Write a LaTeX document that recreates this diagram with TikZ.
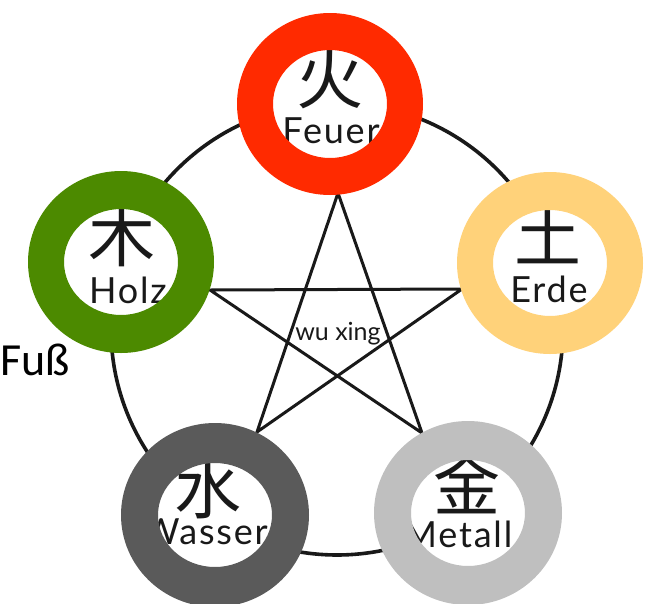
\documentclass[tikz,border=0pt]{standalone}
\usepackage{fontspec}
\setmainfont{Lato}
\newfontfamily\cjkfont{Noto Sans CJK SC}
\newfontfamily\plainsans{Carlito}
\definecolor{firered}{RGB}{255,42,0}
\definecolor{woodgreen}{RGB}{76,138,0}
\definecolor{earthyellow}{RGB}{255,210,122}
\definecolor{waterdark}{RGB}{90,90,90}
\definecolor{metalgrey}{RGB}{191,191,191}
\definecolor{ink}{RGB}{25,25,25}
\begin{document}
\begin{tikzpicture}[x=1pt,y=-1pt,
  ring/.style={fill=#1, even odd rule},
  hole/.style={fill=white},
  glyph/.style={font=\cjkfont\fontsize{67}{67}\selectfont, inner sep=0pt, text=ink},
  element/.style={font=\addfontfeatures{LetterSpace=5}\fontsize{36}{36}\selectfont,
                  inner sep=0pt, anchor=base, text=ink},
  starline/.style={line width=3pt, draw=ink, line join=miter},
  outerline/.style={line width=3.6pt, draw=ink}
]
\useasboundingbox (0,0) rectangle (667,603);

% centres of the five elements
\coordinate (fire)  at (330,104);
\coordinate (wood)  at (121,262);
\coordinate (earth) at (550,263);
\coordinate (water) at (215,515);
\coordinate (metal) at (468,513);

% centre of the cycle and tips of the star
\coordinate (mid) at (337,329);
\coordinate (sTop) at (338,193);
\coordinate (sRight) at (462,289);
\coordinate (sBR) at (422,433);
\coordinate (sBL) at (257,432);
\coordinate (sLeft) at (210,290);

% generating cycle
\draw[outerline] (mid) circle[radius=226pt];

% controlling cycle (pentagram)
\draw[starline] (sTop) -- (sBL) -- (sRight) -- (sLeft) -- (sBR) -- cycle;

\node[font=\fontsize{25}{25}\selectfont, text=ink] (wuxing) at (338,334) {wu xing};

% white centres of the rings
\fill[hole] (fire)  ellipse[x radius=60pt, y radius=57pt];
\fill[hole] (wood)  ellipse[x radius=60pt, y radius=57pt];
\fill[hole] (earth) ellipse[x radius=60pt, y radius=57pt];
\fill[hole] (water) ellipse[x radius=60pt, y radius=57pt];
\fill[hole] (metal) ellipse[x radius=60pt, y radius=57pt];

% element names
\node[element] (feuerT)  at (331,143) {Feuer};
\node[element] (holzT)   at (128,303) {Holz};
\node[element] (erdeT)   at (549,302) {Erde};
\node[element] (wasserT) at (205,544) {Wasser};
\node[element] (metallT) at (458,547) {Metall};

% characters
\node[glyph] (feuerC)  at (330,78)  {火};
\node[glyph] (holzC)   at (122,236) {木};
\node[glyph] (erdeC)   at (548,235) {土};
\node[glyph] (wasserC) at (208,488) {水};
\node[glyph] (metallC) at (467,484) {金};

% coloured rings
\fill[ring=firered]     (fire)  ellipse[x radius=93pt, y radius=91pt] (fire)  ellipse[x radius=57pt, y radius=54pt];
\fill[ring=woodgreen]   (wood)  ellipse[x radius=93pt, y radius=91pt] (wood)  ellipse[x radius=57pt, y radius=53pt];
\fill[ring=earthyellow] (earth) ellipse[x radius=93pt, y radius=91pt] (earth) ellipse[x radius=57pt, y radius=53pt];
\fill[ring=waterdark]   (water) ellipse[x radius=94pt, y radius=92pt] (water) ellipse[x radius=57pt, y radius=52pt];
\fill[ring=metalgrey]   (metal) ellipse[x radius=94pt, y radius=92pt] (metal) ellipse[x radius=57pt, y radius=53pt];

\node[font=\plainsans\fontsize{46}{46}\selectfont, inner sep=0pt, anchor=base west] (fuss) at (0,375) {Fuß};
\end{tikzpicture}
\end{document}
